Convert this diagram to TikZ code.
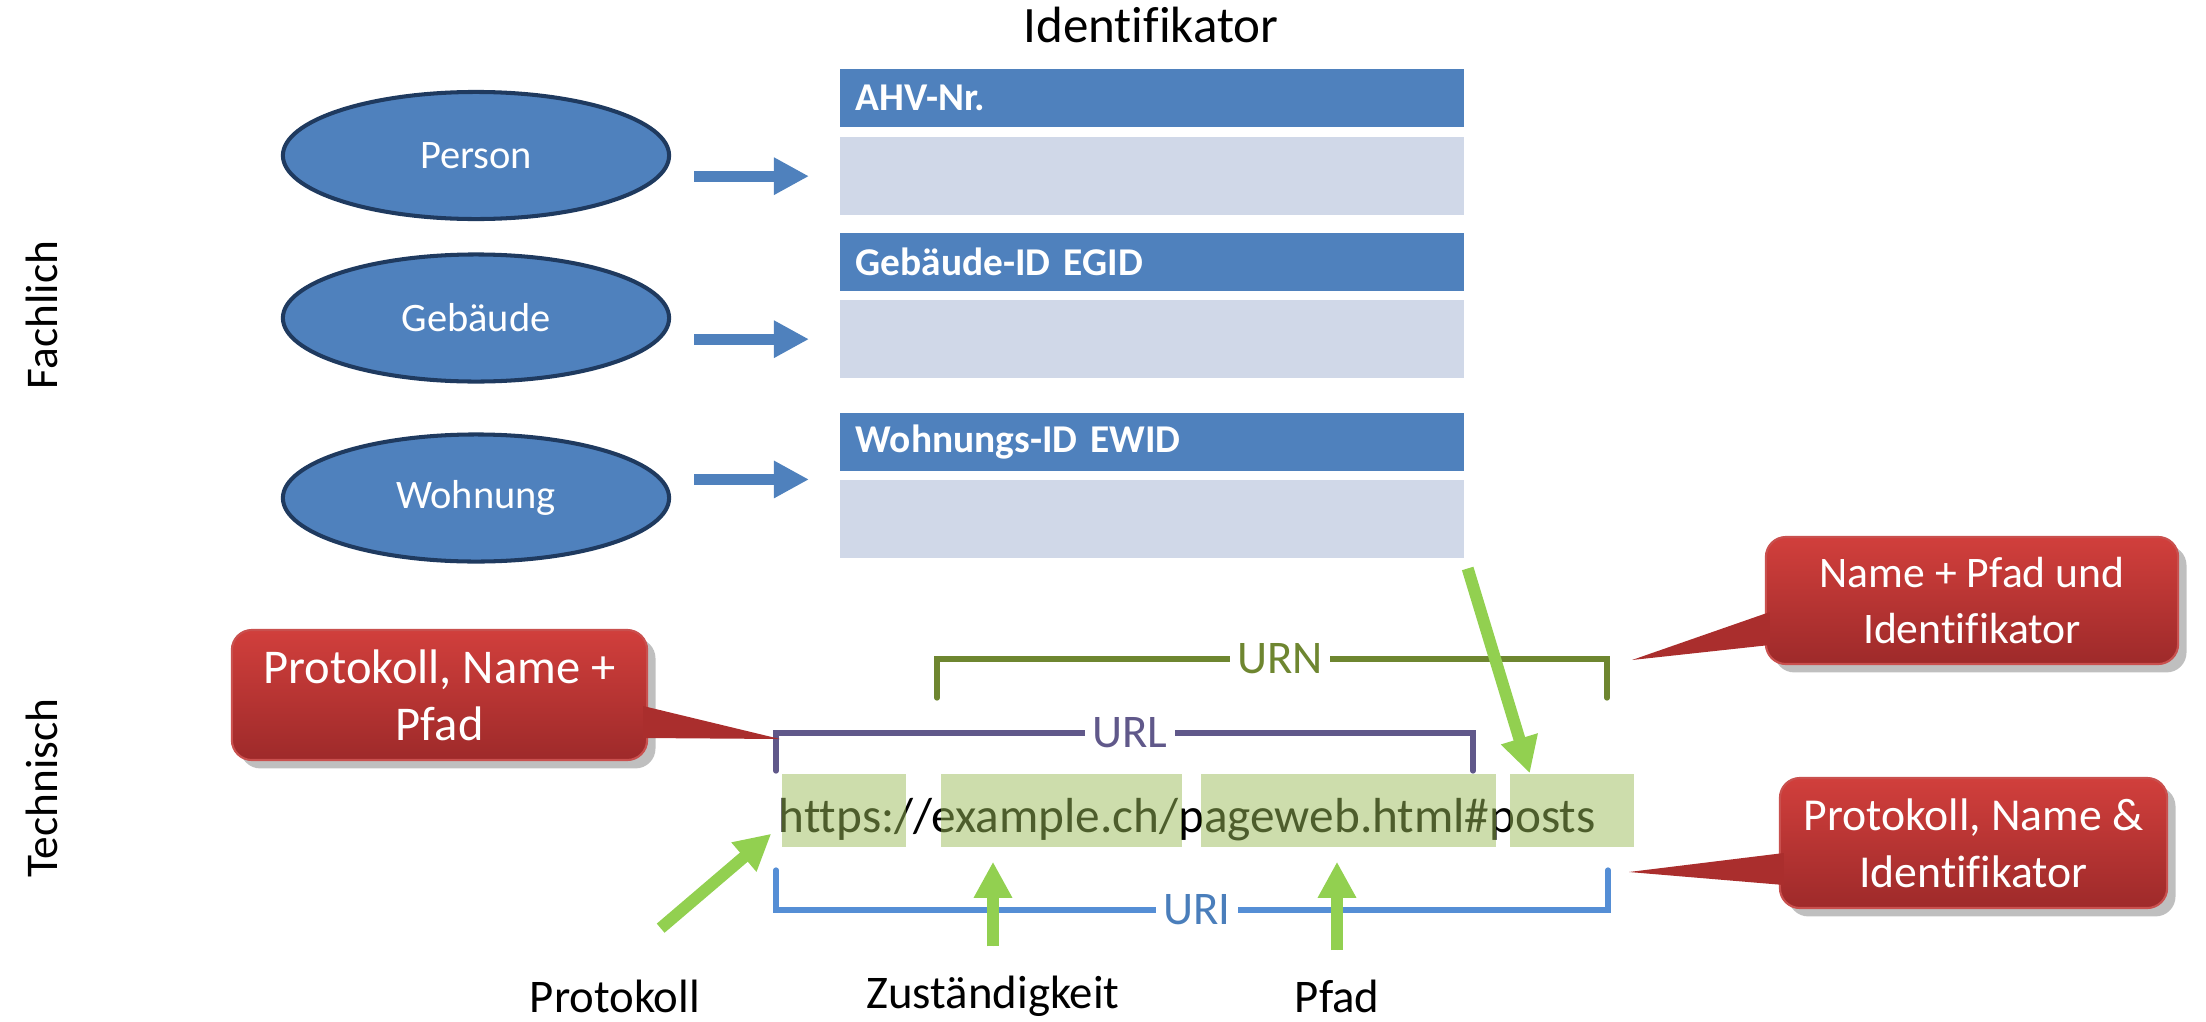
\documentclass[tikz,border=0pt]{standalone}
\usepackage{fontspec}
\setmainfont[Ligatures=NoCommon]{Carlito}
\usetikzlibrary{shapes.geometric,arrows.meta,positioning,shadows,calc}

\definecolor{officeblue}{HTML}{4F81BD}
\definecolor{darkrim}{HTML}{1F3A5F}
\definecolor{paleblue}{HTML}{D0D8E8}
\definecolor{urngreen}{HTML}{6E8630}
\definecolor{urlpurple}{HTML}{60588A}
\definecolor{uriblue}{HTML}{558ED5}
\definecolor{urilabel}{HTML}{4A7EBB}
\definecolor{pointgreen}{HTML}{92D050}
\definecolor{markgreen}{HTML}{9BBB59}
\definecolor{redtop}{HTML}{D13F3C}
\definecolor{redbottom}{HTML}{9E2A2A}
\definecolor{redmid}{HTML}{AA2E2D}
\definecolor{redrim}{HTML}{C9504E}

\tikzset{
  thing/.style={ellipse, draw=darkrim, line width=1.15pt, fill=officeblue,
    text=white, minimum width=3.86cm, minimum height=1.27cm, inner sep=0pt,
    font=\fontsize{11.5}{13}\selectfont},
  idhead/.style={rectangle, fill=officeblue, text=white, anchor=north west,
    text width=5.92cm, inner xsep=0.16cm, inner ysep=0pt, minimum height=0.58cm,
    font=\bfseries\fontsize{11.2}{13}\selectfont},
  idbody/.style={rectangle, fill=paleblue, minimum width=6.24cm,
    minimum height=0.78cm, inner sep=0pt},
  flow/.style={-{Triangle[length=0.35cm,width=0.35cm]}, line width=0.11cm,
    draw=officeblue, fill=officeblue},
  pointer/.style={-{Triangle[length=0.36cm,width=0.36cm]}, line width=0.12cm,
    draw=pointgreen, fill=pointgreen},
  urlmark/.style={rectangle, fill=markgreen, fill opacity=0.5, inner sep=0pt,
    minimum height=0.73cm},
  brace/.style={line width=1.5pt, line cap=round},
  bracelabel/.style={fill=white, inner xsep=2pt, inner ysep=0pt,
    font=\fontsize{13.3}{15}\selectfont},
  callout/.style={rectangle, rounded corners=0.2cm, top color=redtop,
    bottom color=redbottom, draw=redrim, line width=0.6pt, text=white,
    align=center, drop shadow, font=\fontsize{13.8}{16.2}\selectfont},
  plain/.style={font=\fontsize{13.3}{15}\selectfont},
}

\begin{document}
\begin{tikzpicture}[x=0.01cm, y=-0.01cm]
\useasboundingbox (0,0) rectangle (2206,1021);

% side labels
\node[rotate=90, font=\fontsize{12.9}{15}\selectfont] (fach) at (42,315) {Fachlich};
\node[rotate=90, font=\fontsize{12.9}{15}\selectfont] (tech) at (42,788) {Technisch};

% Fachlich
\node[font=\fontsize{14.5}{17}\selectfont] (title) at (1151,25) {Identifikator};

\node[thing] (person) at (476,155.5) {Person};
\node[thing] (gebaeude) at (476,318) {Gebäude};
\node[thing] (wohnung) at (476,498) {Wohnung};

\node[idhead] (ahv) at (839,68) {AHV-Nr.};
\node[idbody, below=0.09cm of ahv] (ahvbody) {};
\node[idhead] (egid) at (839,232) {Gebäude-ID EGID};
\node[idbody, below=0.08cm of egid] (egidbody) {};
\node[idhead] (ewid) at (839,412) {Wohnungs-ID EWID};
\node[idbody, below=0.08cm of ewid] (ewidbody) {};

\draw[flow, shorten <=0.23cm, shorten >=0.30cm] (person.east |- ahvbody.west) -- (ahvbody.west);
\draw[flow, shorten <=0.23cm, shorten >=0.30cm] (gebaeude.east |- egidbody.west) -- (egidbody.west);
\draw[flow, shorten <=0.23cm, shorten >=0.30cm] (wohnung.east |- ewidbody.north west) -- (ewidbody.north west);

% Technisch
\node[anchor=base west, inner sep=0pt, font=\fontsize{14}{16}\selectfont] (url) at (778,832)
  {https://example.ch/pageweb.html\#posts};
\node[urlmark, minimum width=1.24cm] (hl1) at (844,810.5) {};
\node[urlmark, minimum width=2.41cm] (hl2) at (1061.5,810.5) {};
\node[urlmark, minimum width=2.95cm] (hl3) at (1348.5,810.5) {};
\node[urlmark, minimum width=1.24cm] (hl4) at (1572,810.5) {};

% URN
\draw[brace, urngreen] (937,698) -- (937,659) -- (1607,659) -- (1607,698);
\node[bracelabel, text=urngreen] (urn) at (1280,659) {URN};
% URL
\draw[brace, urlpurple] (776,771) -- (776,733) -- (1473,733) -- (1473,771);
\node[bracelabel, text=urlpurple] (urllabel) at (1130,733) {URL};
% URI
\draw[brace, uriblue] (776,870) -- (776,910) -- (1608,910) -- (1608,870);
\node[bracelabel, text=urilabel] (uri) at (1197,910) {URI};

\node[plain] (lprot) at (615,996) {Protokoll};
\node[plain] (lzust) at (993,996) {Zuständigkeit};
\node[plain] (lpfad) at (1337,996) {Pfad};

\coordinate (prottip) at ($(hl1.south west)+(-10,-14)$);
\draw[pointer, shorten <=0.6cm] (lprot.north) -- (prottip);
\draw[pointer, shorten <=0.17cm, shorten >=0.14cm] (lzust.north) -- (lzust.north |- hl2.south);
\draw[pointer, shorten <=0.17cm, shorten >=0.14cm] (lpfad.north) -- (lpfad.north |- hl3.south);
\draw[pointer, shorten <=0.1cm] (ewidbody.south east) -- ([xshift=-12]hl4.north);

% callouts
\node[callout, minimum width=4.15cm, minimum height=1.3cm] (cprot) at (439.5,695)
  {Protokoll, Name +\\Pfad};
\coordinate (urltip) at (780,739);
\fill[redmid] ($(cprot.east)+(-5,11)$) -- (urltip) -- ($(cprot.east)+(-5,43)$) -- cycle;

\node[callout, minimum width=4.12cm, minimum height=1.27cm,
  font=\fontsize{12.4}{16.2}\selectfont] (curn) at (1972,600.5)
  {Name + Pfad und\\Identifikator};
\coordinate (urntip) at (1632,660);
\fill[redmid] ($(curn.west)+(5,11.5)$) -- (urntip) -- ($(curn.west)+(5,44.5)$) -- cycle;

\node[callout, minimum width=3.87cm, minimum height=1.3cm,
  font=\fontsize{13}{16.2}\selectfont] (curi) at (1973.5,843)
  {Protokoll, Name \&\\Identifikator};
\coordinate (uritip) at (1629,872);
\fill[redmid] ($(curi.west)+(5,10)$) -- (uritip) -- ($(curi.west)+(5,42)$) -- cycle;
\end{tikzpicture}
\end{document}
